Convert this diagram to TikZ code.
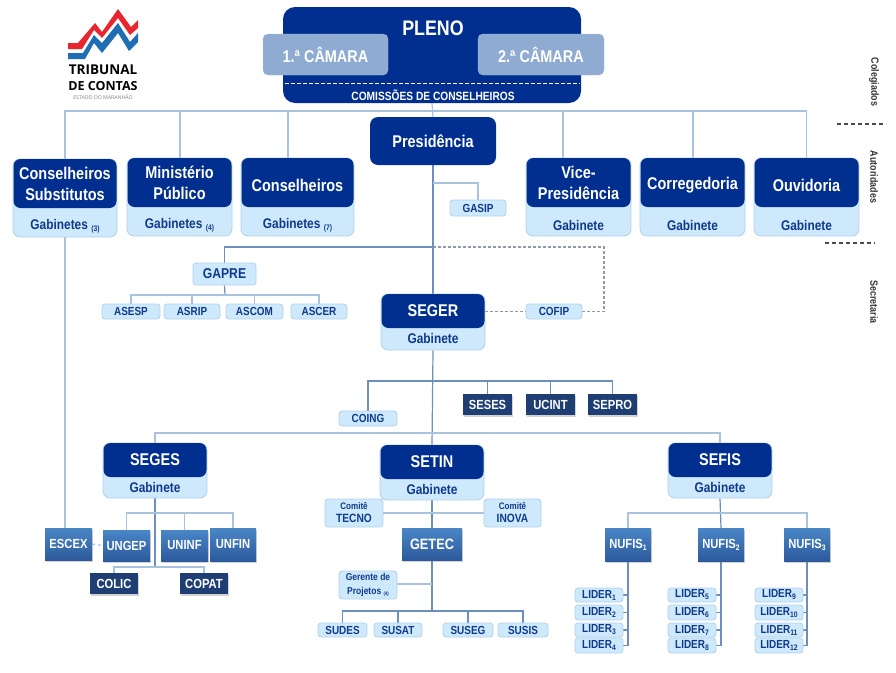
\documentclass[tikz,border=0pt]{standalone}
\usepackage{fontspec}
\setmainfont{Liberation Sans}
\newfontfamily\nar[FakeStretch=0.85]{Liberation Sans}
\newfontfamily\logofont{Open Sans}
\usetikzlibrary{shadows,backgrounds}
\definecolor{dk}{HTML}{002F8F}
\definecolor{lt}{HTML}{CFE9FC}
\definecolor{ltb}{HTML}{B2D0EA}
\definecolor{ink}{HTML}{0F3A8C}
\definecolor{cam}{HTML}{8FABD2}
\definecolor{navy}{HTML}{1F3F74}
\definecolor{gtop}{HTML}{4A86C6}
\definecolor{gbot}{HTML}{2C5A9C}
\definecolor{wire}{HTML}{A9C2E0}
\definecolor{wired}{HTML}{6C8FC0}
\definecolor{lred}{HTML}{E8262D}
\definecolor{lblue}{HTML}{1F6DB2}
\newcommand\fs[1]{\fontsize{#1}{#1}\selectfont}
\newcommand\sbs[1]{\raisebox{-2pt}{\fs{8}#1}}
\newcommand\low[1]{\raisebox{-2.5pt}[\height][\depth]{#1}}
\newcommand\bx[7][]{\node[#1,minimum width={#4-#2},minimum height={#5-#3}] (#6) at ({(#2+#4)/2},{(#3+#5)/2}) {#7};}
\def\gs{3.5}
\newcommand\tier[9]{%
 \node[lightbox,rounded corners=7,minimum width={#5-#2},minimum height={#6-#3}] (#1) at ({(#2+#5)/2},{(#3+#6)/2}) {};
 \node[darkbox,rounded corners=7,font=\nar\bfseries\fontsize{#7}{21}\selectfont,minimum width={#5-#2-1},minimum height={#4-#3}] (#1T) at ({(#2+#5)/2},{(#3+#4)/2}) {#8};
 \node[gabtext] (#1G) at ({(#2+#5)/2},{(#4+#6)/2+\gs}) {#9};}
\tikzset{
 x=1pt,y=-1pt,
 lightbox/.style={draw=ltb,line width=.8pt,fill=lt,rounded corners=3,inner sep=0,text=ink,font=\nar\bfseries,align=center},
 darkbox/.style={fill=dk,rounded corners=8,inner sep=0,text=white,font=\nar\bfseries,align=center},
 gabtext/.style={inner sep=0,text=ink,font=\nar\bfseries\fs{14}},
 cambox/.style={fill=cam,draw=cam!80!white,rounded corners=5,inner sep=0,text=white,font=\nar\bfseries\fs{17}},
 navybox/.style={fill=navy,inner sep=0,text=white,font=\nar\bfseries\fs{13.2},drop shadow={shadow xshift=1pt,shadow yshift=-1.5pt,opacity=.35}},
 gradbox/.style={top color=gtop,bottom color=gbot,inner sep=0,text=white,font=\nar\bfseries\fs{13.2},drop shadow={shadow xshift=1pt,shadow yshift=-1.5pt,opacity=.35}},
 small/.style={lightbox,font=\nar\bfseries\fs{11.7}},
 wirel/.style={draw=wire,line width=1.2pt},
 wirem/.style={draw=wired,line width=1.2pt},
 dashw/.style={draw=gray!60!wire,line width=1.1pt,dash pattern=on 3pt off 2pt},
 side/.style={rotate=-90,inner sep=0,font=\nar\bfseries\fs{10.5},text=black!80},
 sepd/.style={draw=black!70,line width=1.2pt,dash pattern=on 4pt off 3pt},
 logot/.style={inner sep=0,font=\logofont\bfseries,text=black},
}
\begin{document}
\begin{tikzpicture}
\useasboundingbox (0,0) rectangle (896,672);
% logo
\fill[lred] (68,43)--(78,43)--(95,23)--(102,32)--(118,9)--(131,27)--(138,20)--(138,28)--(130,35)--(118,18)--(102,38)--(94,30)--(82,49)--(68,49)--cycle;
\fill[lblue] (68,53)--(83,53)--(94,35)--(102,43)--(118,23)--(130,42)--(138,33)--(138,42)--(129,51)--(118,33)--(102,53)--(94,43)--(85,59)--(68,59)--cycle;
\node[logot] (logoA) at (103,70) {\fs{13.5}TRIBUNAL};
\node[logot] (logoB) at (103,86) {\fs{12.5}DE CONTAS};
\node[inner sep=0,text=gray,font=\logofont] (logoC) at (103,97) {\fs{5.2}ESTADO DO MARANHÃO};
% top
\bx[darkbox,rounded corners=12]{283}{7}{581}{103}{pleno}{}
\node[inner sep=0,text=white,font=\nar\bfseries\fs{21}] (plenoT) at (433,28) {PLENO};
\bx[cambox]{263}{34}{388}{75}{cam1}{1.ª CÂMARA}
\bx[cambox]{478}{34}{604}{75}{cam2}{2.ª CÂMARA}
\coordinate (dl) at (285,83); \coordinate (dr) at (580,83);
\draw[white,line width=.8pt,dash pattern=on 3.5pt off 2.5pt] (dl)--(dr);
\node[inner sep=0,text=white,font=\nar\bfseries\fs{12}] (comis) at (433,95) {COMISSÕES DE CONSELHEIROS};
\bx[darkbox,font=\nar\bfseries\fs{17}]{370}{117}{496}{165}{pres}{Presidência}
\bx[small]{450}{200}{506}{216}{gasip}{GASIP}
% authorities
\tier{cs}{13}{159}{208}{117}{237}{17}{Conselheiros\\Substitutos}{Gabinetes \sbs{(3)}}
\tier{mp}{127}{158}{207}{232}{236}{17}{Ministério\\Público}{Gabinetes \sbs{(4)}}
\tier{cons}{241}{158}{207}{354}{236}{17}{\low{Conselheiros}}{Gabinetes \sbs{(7)}}
\tier{vice}{526}{158}{207}{631}{236}{17}{Vice-\\Presidência}{Gabinete}
\tier{corr}{640}{158}{207}{745}{236}{17}{\low{Corregedoria}}{Gabinete}
\tier{ouv}{754}{158}{207}{859}{236}{17}{\low{Ouvidoria}}{Gabinete}
\def\gs{-0.5}
% side labels
\node[side] (s1) at (874,82) {Colegiados};
\node[side] (s2) at (874,177) {Autoridades};
\node[side] (s3) at (874,302) {Secretaria};
\coordinate (sa) at (837,124); \coordinate (sb) at (886,124);
\coordinate (sc) at (825,243); \coordinate (sd) at (875,243);
\draw[sepd] (sa)--(sb); \draw[sepd] (sc)--(sd);
% secretaria
\bx[lightbox,font=\nar\bfseries\fs{14.3}]{193}{263}{256}{285}{gapre}{GAPRE}
\bx[small]{102}{304}{160}{319}{asesp}{ASESP}
\bx[small]{164}{304}{220}{319}{asrip}{ASRIP}
\bx[small]{226}{304}{283}{319}{ascom}{ASCOM}
\bx[small]{291}{304}{347}{319}{ascer}{ASCER}
\tier{seger}{381}{294}{328}{485}{350}{17}{SEGER}{Gabinete}
\bx[small]{526}{304}{582}{319}{cofip}{COFIP}
\bx[small]{339}{411}{397}{426}{coing}{COING}
\bx[navybox]{463}{394}{512}{415}{seses}{SESES}
\bx[navybox]{526}{394}{575}{415}{ucint}{UCINT}
\bx[navybox]{588}{394}{637}{415}{sepro}{SEPRO}
% SEGES
\tier{seges}{103}{443}{477}{207}{498}{17}{SEGES}{Gabinete}
\bx[gradbox]{45}{528}{92}{560}{escex}{ESCEX}
\bx[gradbox]{103}{530}{150}{561}{ungep}{UNGEP}
\bx[gradbox]{161}{530}{208}{561}{uninf}{UNINF}
\bx[gradbox]{210}{528}{256}{561}{unfin}{UNFIN}
\bx[navybox]{90}{573}{138}{594}{colic}{COLIC}
\bx[navybox]{180}{573}{228}{594}{copat}{COPAT}
% SETIN
\tier{setin}{380}{445}{479}{484}{500}{17}{SETIN}{Gabinete}
\bx[lightbox]{325}{499}{383}{527}{tecno}{\fs{9.5}Comitê\\[1pt]\fs{12}TECNO}
\bx[lightbox]{484}{499}{541}{527}{inova}{\fs{9.5}Comitê\\[1pt]\fs{12}INOVA}
\bx[gradbox,font=\nar\bfseries\fs{15}]{402}{528}{462}{560}{getec}{GETEC}
\bx[lightbox]{339}{571}{397}{599}{gerente}{\fs{10}Gerente de\\[2pt]\fs{10}Projetos \raisebox{-1.5pt}{\fs{5}(4)}}
\bx[small]{318}{623}{367}{637}{sudes}{SUDES}
\bx[small]{374}{623}{422}{637}{susat}{SUSAT}
\bx[small]{443}{623}{493}{637}{suseg}{SUSEG}
\bx[small]{498}{623}{548}{637}{susis}{SUSIS}
% SEFIS
\tier{sefis}{668}{443}{477}{772}{498}{17}{SEFIS}{Gabinete}
\bx[gradbox]{605}{528}{651}{561}{nf1}{NUFIS\sbs{1}}
\bx[gradbox]{698}{528}{744}{561}{nf2}{NUFIS\sbs{2}}
\bx[gradbox]{784}{528}{830}{561}{nf3}{NUFIS\sbs{3}}
\bx[small]{575}{588}{623}{602}{l1}{LIDER\sbs{1}}
\bx[small]{575}{605}{623}{620}{l2}{LIDER\sbs{2}}
\bx[small]{575}{623}{623}{637}{l3}{LIDER\sbs{3}}
\bx[small]{575}{638}{623}{653}{l4}{LIDER\sbs{4}}
\bx[small]{668}{588}{716}{602}{l5}{LIDER\sbs{5}}
\bx[small]{668}{605}{716}{620}{l6}{LIDER\sbs{6}}
\bx[small]{668}{623}{716}{637}{l7}{LIDER\sbs{7}}
\bx[small]{668}{638}{716}{653}{l8}{LIDER\sbs{8}}
\bx[small]{755}{588}{803}{602}{l9}{LIDER\sbs{9}}
\bx[small]{755}{605}{803}{620}{l10}{LIDER\sbs{10}}
\bx[small]{755}{623}{803}{637}{l11}{LIDER\sbs{11}}
\bx[small]{755}{638}{803}{653}{l12}{LIDER\sbs{12}}
% bus points
\coordinate (busT) at (433,111);
\coordinate (busGasip) at (433,183);
\coordinate (busGap) at (433,247);
\coordinate (busGapre) at (225,295);
\coordinate (busSeg) at (433,381);
\coordinate (busSec) at (433,433);
\coordinate (busSg) at (155,513);
\coordinate (busLow) at (155,567);
\coordinate (busTi) at (432,611);
\coordinate (busSf) at (720,513);
\coordinate (cDash) at (604,247);
\coordinate (tGer) at (432,584);
\coordinate (tIn) at (432,513);
\coordinate (t2) at (288,111);
\coordinate (t3) at (563,111);
\coordinate (tmp) at (180,111);
\coordinate (tc) at (693,111);
\begin{scope}[on background layer]
\draw[wirel] (cs.north) |- (busT) -| (ouv.north);
\draw[wirel] (tmp) -- (tmp |- mpT.north);
\draw[wirel] (t2) -- (t2 |- consT.north);
\draw[wirel] (t3) -- (t3 |- viceT.north);
\draw[wirel] (tc) -- (tc |- corrT.north);
\draw[wirel] (cs.south) -- (cs.south |- escex.north);
\draw[wirel] (pleno.south) -- (pres.north);
\draw[wirem] (pres.south) -- (segerT.north);
\draw[wirel] (busGasip) -| (gasip.north);
\draw[wirem] (busGap) -| (gapre.north);
\draw[wirem] (gapre.south) -- (busGapre);
\draw[wirel] (asesp.north) |- (busGapre) -| (ascer.north);
\draw[wirel] (asrip.north) -- (asrip.north |- busGapre);
\draw[wirel] (ascom.north) -- (ascom.north |- busGapre);
\draw[dashw] (busGap) -- (cDash) |- (cofip.east);
\draw[dashw] (seger.east |- cofip.west) -- (cofip.west);
\draw[wirem] (seger.south) -- (setinT.north);
\draw[wirem] (coing.north) |- (busSeg) -| (sepro.north);
\draw[wirem] (seses.north) -- (seses.north |- busSeg);
\draw[wirem] (ucint.north) -- (ucint.north |- busSeg);
\draw[wirel] (segesT.north) |- (busSec) -| (sefisT.north);
\draw[wirem] (seges.south) -- (busLow);
\draw[wirel] (ungep.north) |- (busSg) -| (unfin.north);
\draw[wirel] (uninf.north) -- (uninf.north |- busSg);
\draw[wirel] (colic.north) |- (busLow) -| (copat.north);
\draw[wirel,dashed] (escex.east) -- (ungep.west);
\draw[wirem] (setin.south) -- (getec.north);
\draw[wirel] (tecno.east |- tIn) -- (inova.west |- tIn);
\draw[wirem] (getec.south) -- (busTi);
\draw[wirel] (gerente.east |- tGer) -- (tGer);
\draw[wirem] (sudes.north) |- (busTi) -| (susis.north);
\draw[wirem] (susat.north) -- (susat.north |- busTi);
\draw[wirem] (suseg.north) -- (suseg.north |- busTi);
\draw[wirem] (sefis.south) -- (nf2.north);
\draw[wirel] (nf1.north) |- (busSf) -| (nf3.north);
\draw[wirem] (nf1.south) |- (l4.east);
\draw[wirem] (nf2.south) |- (l8.east);
\draw[wirem] (nf3.south) |- (l12.east);
\foreach \a/\b in {l1/nf1,l2/nf1,l3/nf1,l5/nf2,l6/nf2,l7/nf2,l9/nf3,l10/nf3,l11/nf3}
  \draw[wirem] (\a.east) -- (\a.east -| \b.south);
\end{scope}
\end{tikzpicture}
\end{document}
